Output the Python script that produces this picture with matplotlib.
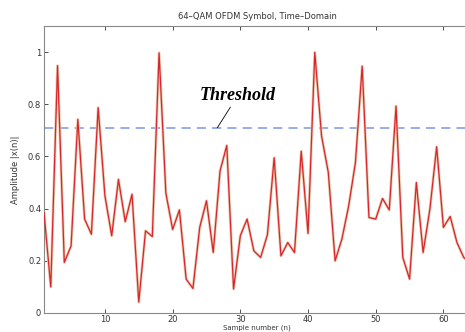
import matplotlib
matplotlib.use("Agg")
import matplotlib.pyplot as plt
import numpy as np

n = np.arange(1, 65)
amplitude = [0.385, 0.10, 0.948, 0.194, 0.257, 0.742, 0.36, 0.302, 0.787, 0.449,
             0.296, 0.512, 0.35, 0.455, 0.042, 0.315, 0.293, 0.997, 0.46, 0.32,
             0.395, 0.13, 0.094, 0.328, 0.43, 0.232, 0.544, 0.642, 0.092, 0.296,
             0.36, 0.238, 0.213, 0.30, 0.595, 0.219, 0.27, 0.232, 0.62, 0.305,
             0.999, 0.678, 0.538, 0.20, 0.283, 0.41, 0.576, 0.946, 0.366, 0.36,
             0.439, 0.395, 0.793, 0.213, 0.13, 0.50, 0.232, 0.398, 0.637, 0.328,
             0.37, 0.27, 0.213, 0.19]
threshold = 0.71
xticks = [10, 20, 30, 40, 50, 60]
yticks = [0, 0.2, 0.4, 0.6, 0.8, 1.0]
ytick_labels = ["0", "0.2", "0.4", "0.6", "0.8", "1"]

fig = plt.figure(figsize=(4.65, 3.32), dpi=100)
ax = fig.add_axes([44/465, 19/332, 426.5/465, 287/332])

ax.plot(n, amplitude, color="#e9c9b2", lw=2.0, zorder=2)
ax.plot(n, amplitude, color="#d8262a", lw=0.9, zorder=3)
ax.axhline(threshold, color="#7b97e6", lw=1.1, ls=(0, (6, 4)), zorder=1)

ax.set_xlim(1, 64)
ax.set_ylim(0, 1.1)
ax.set_xticks(xticks)
ax.set_yticks(yticks)
ax.set_yticklabels(ytick_labels)
ax.tick_params(direction="in", length=3, width=0.6, labelsize=6, colors="#333333",
               top=True, right=True, pad=2)
ax.tick_params(axis="x", pad=1.5)
for s in ax.spines.values():
    s.set_color("#888888")
    s.set_linewidth(0.8)

ax.set_title("64\u2013QAM OFDM Symbol, Time\u2013Domain", fontsize=6, color="#333333", pad=5)
ax.set_xlabel("Sample number (n)", fontsize=5, color="#333333", labelpad=0)
ax.set_ylabel("Amplitude |x(n)|", fontsize=6, color="#333333", labelpad=6)

ax.annotate("Threshold", xy=(26.6, threshold), xytext=(29.6, 0.80),
            fontsize=13, fontweight="bold", fontstyle="italic",
            family="Liberation Serif", ha="center", va="bottom",
            arrowprops=dict(arrowstyle="-", color="black", lw=0.6,
                            shrinkA=0, shrinkB=0))

fig.savefig("out.png", dpi=100)
